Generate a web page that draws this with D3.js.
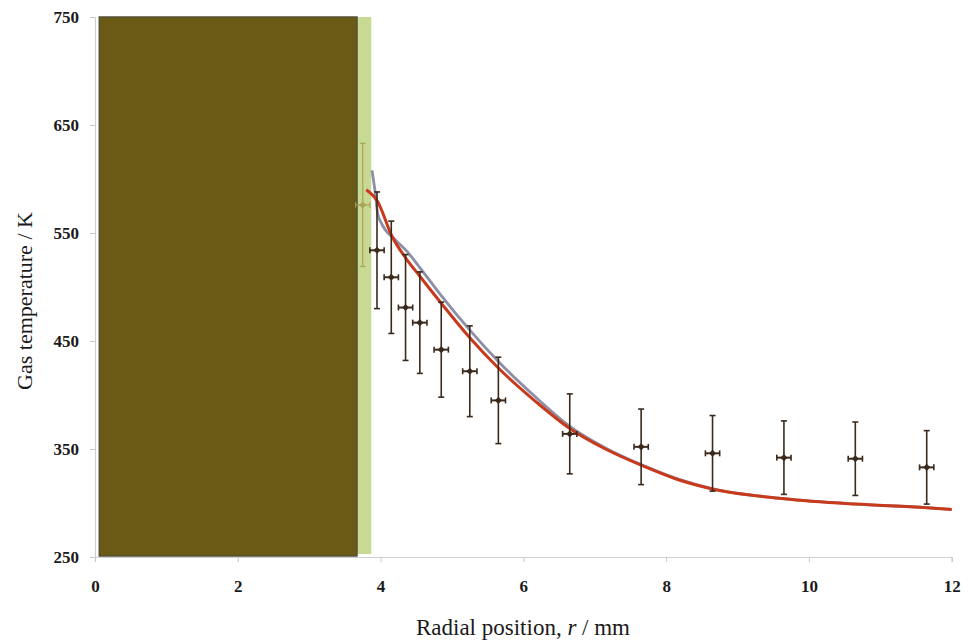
<!DOCTYPE html>
<html>
<head>
<meta charset="utf-8">
<script src="https://cdn.jsdelivr.net/npm/d3@7"></script>
<style>
  html, body { margin: 0; padding: 0; background: #ffffff; }
  svg { display: block; }
</style>
</head>
<body>
<svg id="chart" width="968" height="640"></svg>
<script>
// ---------- data ----------
const xTicks = [0, 2, 4, 6, 8, 10, 12];
const yTicks = [250, 350, 450, 550, 650, 750];

// electrode (dark) and sheath (green) regions, in mm
const electrodeSpan = [0.06, 3.67];
const sheathSpan = [3.67, 3.87];

// experimental points
const expR    = [3.75, 3.95, 4.15, 4.35, 4.55, 4.85, 5.25, 5.65, 6.65, 7.65, 8.65, 9.65, 10.65, 11.65];
const expT    = [576, 534, 509, 481, 467, 442, 422, 395, 364, 352, 346, 342, 341, 333];
const expTErr = [57, 54, 52, 49, 47, 44, 42, 40, 37, 35, 35, 34, 34, 34];
const expRErr = [0.1, 0.1, 0.1, 0.1, 0.1, 0.1, 0.1, 0.1, 0.1, 0.1, 0.1, 0.1, 0.1, 0.1];

// model curve (red)
const redR = [3.80, 3.96, 4.16, 4.35, 4.55, 4.85, 5.25, 5.65, 6.19, 6.65, 7.15, 7.65, 8.15, 8.65, 9.65, 10.65, 11.65, 12.0];
const redT = [590, 579, 547, 527, 510, 485, 453, 425, 393, 369, 350, 335, 322, 313, 304, 299, 295.7, 294];

// model curve (grey)
const grayR = [3.88, 3.92, 3.96, 4.02, 4.2, 4.37, 4.55, 4.85, 5.25, 5.65, 6.19, 6.65, 7.15, 7.65, 8.15, 8.65, 9.65, 10.65, 11.65, 12.0];
const grayT = [608, 590, 568, 558, 544, 533, 518, 492, 460, 431, 397, 371, 351, 335.5, 322.5, 313, 304, 299, 295.7, 294];

// ---------- chart ----------
const svg = d3.select("#chart");
const x = d3.scaleLinear().domain([0, 12]).range([95, 951.7]);
const y = d3.scaleLinear().domain([250, 750]).range([557, 17]);

// regions
svg.append("rect")
  .attr("x", x(sheathSpan[0])).attr("y", y(750))
  .attr("width", x(sheathSpan[1]) - x(sheathSpan[0]))
  .attr("height", y(250) - y(750) - 3)
  .attr("fill", "#c8d993");

svg.append("rect")
  .attr("x", x(electrodeSpan[0])).attr("y", y(750))
  .attr("width", x(electrodeSpan[1]) - x(electrodeSpan[0]))
  .attr("height", y(250) - y(750) - 1)
  .attr("fill", "#6a5a16")
  .attr("stroke", "#55503a").attr("stroke-width", 1.5);

// axes
const fontTick = "'Liberation Serif', 'Times New Roman', serif";

const xAxis = d3.axisBottom(x).tickValues(xTicks).tickSize(5).tickPadding(18).tickFormat(d3.format("d"));
const gx = svg.append("g").attr("transform", `translate(0,${y(250)})`).call(xAxis);
gx.select(".domain").attr("stroke", "#cfcfcf").attr("stroke-width", 1.2);
gx.selectAll(".tick line").attr("stroke", "#c8c8c8");
gx.selectAll(".tick text")
  .attr("font-family", fontTick).attr("font-weight", "bold").attr("font-size", 17).attr("fill", "#1a1a1a");

const yAxis = d3.axisLeft(y).tickValues(yTicks).tickSize(5).tickPadding(11).tickFormat(d3.format("d"));
const gy = svg.append("g").attr("transform", `translate(${x(0)},0)`).call(yAxis);
gy.select(".domain").attr("stroke", "#cfcfcf").attr("stroke-width", 1.2);
gy.selectAll(".tick line").attr("stroke", "#c8c8c8");
gy.selectAll(".tick text")
  .attr("font-family", fontTick).attr("font-weight", "bold").attr("font-size", 17).attr("fill", "#1a1a1a");

// axis titles
svg.append("text")
  .attr("transform", `translate(32,${(y(750) + y(250)) / 2 + 14}) rotate(-90)`)
  .attr("text-anchor", "middle")
  .attr("font-family", fontTick).attr("font-size", 22).attr("fill", "#1a1a1a")
  .text("Gas temperature / K");

const xt = svg.append("text")
  .attr("x", 523).attr("y", 635)
  .attr("text-anchor", "middle")
  .attr("font-family", fontTick).attr("font-size", 23).attr("fill", "#1a1a1a");
xt.append("tspan").text("Radial position, ");
xt.append("tspan").attr("font-style", "italic").text("r");
xt.append("tspan").text(" / mm");

// model lines
const lineGen = d3.line().x(d => x(d[0])).y(d => y(d[1])).curve(d3.curveMonotoneX);

svg.append("path")
  .datum(grayR.map((r, i) => [r, grayT[i]]))
  .attr("d", lineGen)
  .attr("fill", "none").attr("stroke", "#8c8fa6").attr("stroke-width", 2.8);

svg.append("path")
  .datum(redR.map((r, i) => [r, redT[i]]))
  .attr("d", lineGen)
  .attr("fill", "none").attr("stroke", "#c93a1c").attr("stroke-width", 3);

// experimental points with error bars
const pts = expR.map((r, i) => ({ r, t: expT[i], et: expTErr[i], er: expRErr[i] }));
const g = svg.append("g");
pts.forEach(p => {
  const faded = p.r < sheathSpan[1];
  const col = faded ? "#a79c4e" : "#3b2a1c";
  const cx = x(p.r), cy = y(p.t);
  const gp = g.append("g").attr("stroke", col).attr("stroke-width", faded ? 1.2 : 1.6).attr("opacity", faded ? 0.85 : 1);
  // vertical bar
  gp.append("line").attr("x1", cx).attr("x2", cx).attr("y1", y(p.t + p.et)).attr("y2", y(p.t - p.et));
  gp.append("line").attr("x1", cx - 3).attr("x2", cx + 3).attr("y1", y(p.t + p.et)).attr("y2", y(p.t + p.et));
  gp.append("line").attr("x1", cx - 3).attr("x2", cx + 3).attr("y1", y(p.t - p.et)).attr("y2", y(p.t - p.et));
  // horizontal bar
  const xl = x(p.r - p.er), xr = x(p.r + p.er);
  gp.append("line").attr("x1", xl).attr("x2", xr).attr("y1", cy).attr("y2", cy).attr("stroke-width", faded ? 1.4 : 2);
  gp.append("line").attr("x1", xl).attr("x2", xl).attr("y1", cy - 3).attr("y2", cy + 3);
  gp.append("line").attr("x1", xr).attr("x2", xr).attr("y1", cy - 3).attr("y2", cy + 3);
  // marker
  gp.append("rect").attr("x", cx - 2.5).attr("y", cy - 2.5).attr("width", 5).attr("height", 5)
    .attr("fill", col).attr("stroke", "none").attr("transform", `rotate(45,${cx},${cy})`);
});
</script>
</body>
</html>
